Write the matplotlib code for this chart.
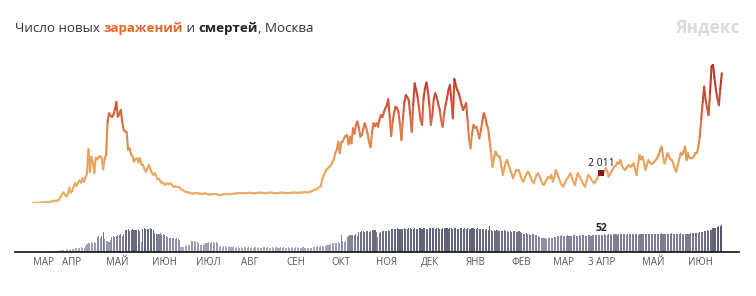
import matplotlib
matplotlib.use('Agg')
import matplotlib.pyplot as plt
import matplotlib.dates as mdates
from matplotlib.collections import LineCollection
from matplotlib.colors import LinearSegmentedColormap, Normalize
import numpy as np
import pandas as pd

plt.rcParams['font.family'] = ['Open Sans', 'DejaVu Sans']

# Данные: новые заражения и смерти в день, Москва, с 12 марта 2020
start_date = '2020-03-12'
cases = [
    5, 6, 8, 10, 12, 20, 30, 33, 44, 54, 71, 71, 28, 120, 136, 157, 114, 197, 212, 387,  # мар 2020
    595, 697, 536, 434, 591, 1014, 697, 798, 1124, 1306, 1124, 1355, 1489, 1355, 1640, 1400, 1700, 1959,
    3570, 2080, 3070, 2700, 1990, 3000, 2900, 3050, 3100, 3000, 2230, 2900,  # апр
    3200, 5358, 5948, 5795, 5714, 5858, 6200, 6703, 5730, 5900, 6170, 5392, 4840, 4748, 4703, 3520,
    3630, 3238, 3100, 2740, 2913, 2960, 2700, 2988, 2560, 2516, 2300, 2080, 2250, 2520, 2300,  # май
    2014, 1880, 1970, 1842, 1572, 1600, 1450, 1300, 1350, 1195, 1260, 1300, 1250, 1300, 1180, 1080,
    1100, 1060, 1080, 1038, 906, 860, 800, 750, 720, 700, 660, 650, 600, 640,  # июн
    640, 650, 630, 620, 610, 600, 640, 620, 600, 580, 560, 570, 590, 600, 580, 560, 540, 530, 550, 570,
    580, 600, 590, 580, 600, 610, 620, 630, 640, 640, 650,  # июл
    650, 660, 650, 640, 660, 670, 680, 660, 650, 640, 660, 670, 680, 690, 680, 660, 650, 660, 670, 680,
    690, 680, 660, 650, 640, 660, 670, 680, 690, 680, 660,  # авг
    658, 660, 670, 680, 690, 700, 680, 670, 690, 700, 680, 700, 720, 730, 700, 710, 750, 800, 830, 880,
    900, 960, 1050, 1100, 1560, 1792, 2016, 2217, 2300, 2424,  # сен
    2500, 2704, 2884, 3327, 3537, 4070, 3300, 4000, 4082, 4300, 4450, 4510, 3900, 4400, 3960, 4955,
    4600, 5150, 5400, 5000, 4400, 4500, 4900, 5290, 5000, 4600, 4000, 3695, 4700, 5290, 5100,  # окт
    5300, 5065, 5500, 5840, 5700, 6000, 6280, 6450, 6880, 5700, 4446, 5400, 6000, 6390, 6300, 6000,
    5200, 4180, 5600, 6700, 7167, 7000, 6800, 5800, 4730, 6500, 7940, 7500, 7000, 6300,  # ноя
    5500, 5176, 6900, 7600, 7985, 7400, 6500, 5176, 5800, 6900, 7280, 7000, 6600, 6200, 5500, 5065,
    5900, 6500, 6950, 7500, 7830, 6800, 5620, 8230, 7800, 7500, 7280, 6900, 6500, 6170, 6400,  # дек
    6620, 5500, 4200, 3630, 4600, 5176, 5000, 5050, 4700, 4290, 4800, 5400, 5950, 5700, 5200, 4955,
    4100, 3300, 2410, 3000, 3400, 3200, 3100, 3070, 2400, 1860, 2300, 2700, 2850, 2500, 2200,  # янв 2021
    1900, 1640, 1900, 2190, 2150, 2190, 1800, 1550, 1415, 1700, 1900, 2080, 1950, 1700, 1450, 1305,
    1600, 1850, 1970, 1750, 1500, 1250, 1195, 1400, 1600, 1745, 1650, 1860,  # фев
    1415, 1700, 2190, 1950, 1700, 1400, 1200, 1080, 1300, 1500, 1650, 1800, 1970, 1700, 1400, 1195,
    1600, 1970, 1800, 1600, 1400, 1200, 1080, 1500, 1860, 1750, 1600, 1450, 1305, 1400, 1600,  # мар
    1800, 1900, 2011, 1900, 2100, 2300, 2100, 1750, 1900, 2100, 2300, 2410, 2500, 2700, 2600, 2850,
    2500, 2300, 2190, 2300, 2450, 2520, 2400, 2500, 2630, 2200, 1860, 2600, 3180, 2900,  # апр
    3080, 2700, 2190, 2500, 2850, 2700, 2600, 2630, 2750, 2850, 2960, 3200, 3500, 3740, 3100, 2630,
    2900, 3300, 3100, 2900, 2850, 2600, 2300, 2080, 2500, 2900, 3300, 3200, 3400, 3740, 2850,  # май
    3300, 3000, 2960, 3000, 3100, 3300, 3300, 3700, 4400, 5600, 6700, 7720, 6840, 6300, 5840, 7300,
    9050, 9160, 8300, 7500, 6950, 6500, 7600, 8610,  # июн
]
deaths = [
    0, 0, 0, 0, 0, 0, 0, 0, 0, 0, 0, 0, 0, 2, 3, 2, 4, 3, 5, 4,  # мар 2020
    6, 5, 4, 7, 8, 6, 9, 8, 10, 12, 11, 13, 12, 14, 12, 13, 18, 24, 28, 26, 30, 28, 32, 29, 45, 48,
    43, 50, 61, 40,  # апр
    35, 33, 31, 38, 45, 48, 47, 50, 52, 53, 55, 50, 54, 66, 68, 70, 65, 67, 69, 68, 66, 68, 67, 65,
    31, 70, 72, 71, 69, 70, 72,  # май
    71, 68, 58, 56, 55, 54, 57, 53, 55, 52, 50, 45, 44, 43, 42, 44, 41, 43, 40, 38, 16, 14, 15, 17,
    20, 22, 21, 33, 34, 35,  # июн
    32, 30, 28, 22, 20, 22, 24, 26, 28, 30, 29, 31, 30, 28, 30, 29, 18, 17, 16, 18, 17, 16, 15, 17,
    14, 15, 14, 13, 15, 14, 13,  # июл
    14, 13, 14, 15, 13, 14, 12, 14, 13, 15, 14, 13, 14, 12, 13, 14, 15, 13, 14, 13, 12, 14, 13, 14,
    15, 13, 12, 14, 13, 14, 13,  # авг
    13, 14, 12, 13, 14, 13, 15, 14, 13, 12, 13, 14, 12, 13, 11, 12, 13, 12, 14, 15, 16, 17, 16, 18,
    17, 19, 18, 20, 21, 22,  # сен
    24, 26, 28, 27, 29, 30, 28, 52, 33, 31, 34, 45, 50, 52, 51, 53, 52, 54, 50, 60, 62, 63, 64, 61,
    65, 63, 62, 64, 66, 67, 68,  # окт
    60, 47, 58, 62, 64, 65, 63, 64, 66, 65, 70, 71, 69, 70, 72, 71, 70, 69, 71, 72, 70, 71, 73, 72,
    70, 71, 72, 70, 71, 73,  # ноя
    72, 71, 73, 72, 70, 71, 72, 73, 74, 72, 71, 73, 72, 70, 71, 72, 73, 74, 72, 71, 73, 72, 71, 72,
    73, 71, 70, 72, 73, 71, 72,  # дек
    71, 72, 70, 71, 72, 73, 70, 71, 72, 70, 71, 69, 70, 68, 70, 67, 78, 66, 65, 67, 64, 66, 65, 63,
    64, 65, 66, 63, 64, 62, 63,  # янв 2021
    62, 63, 64, 61, 62, 63, 60, 58, 56, 55, 57, 54, 55, 53, 56, 54, 52, 53, 50, 45, 43, 44, 42, 43,
    41, 44, 43, 42,  # фев
    44, 45, 47, 48, 50, 49, 51, 50, 48, 49, 51, 50, 49, 50, 52, 51, 50, 49, 51, 50, 52, 51, 50, 49,
    51, 52, 50, 51, 52, 53, 51,  # мар
    51, 52, 52, 53, 54, 52, 53, 54, 55, 53, 54, 55, 54, 53, 55, 54, 56, 55, 54, 53, 55, 56, 54, 55,
    56, 54, 55, 53, 54, 55,  # апр
    54, 55, 56, 54, 55, 56, 55, 54, 56, 55, 54, 56, 55, 57, 55, 54, 56, 55, 54, 56, 57, 55, 56, 54,
    55, 56, 57, 55, 56, 55, 56,  # май
    55, 56, 57, 58, 57, 58, 59, 58, 60, 61, 62, 64, 65, 66, 65, 67, 68, 72, 73, 74, 75, 78, 80, 84,  # июн
]

month_labels = ['МАР', 'АПР', 'МАЙ', 'ИЮН', 'ИЮЛ', 'АВГ', 'СЕН', 'ОКТ', 'НОЯ', 'ДЕК',
                'ЯНВ', 'ФЕВ', 'МАР', 'МАЙ', 'ИЮН']
month_dates = ['2020-03-12', '2020-04-01', '2020-05-01', '2020-06-01', '2020-07-01', '2020-08-01',
               '2020-09-01', '2020-10-01', '2020-11-01', '2020-12-01', '2021-01-01', '2021-02-01',
               '2021-03-01', '2021-05-01', '2021-06-01']
highlight_date = '2021-04-03'
highlight_label = '3 АПР'

dates = pd.date_range(start_date, periods=len(cases))
x = mdates.date2num(dates)
cases = np.array(cases, dtype=float)
deaths = np.array(deaths, dtype=float)

W, H = 756, 296
fig = plt.figure(figsize=(W / 100, H / 100), dpi=100)
left, width = 15 / W, 724 / W

ax_line = fig.add_axes([left, 1 - 203 / H, width, 163 / H])
ax_bar = fig.add_axes([left, 1 - 252 / H, width, 40 / H])

x0 = mdates.date2num(pd.Timestamp('2020-03-01')) - 0.98
x1 = x0 + 0.98 + 491.7
for ax in (ax_line, ax_bar):
    ax.set_xlim(x0, x1)
    ax.set_facecolor('none')
    for s in ax.spines.values():
        s.set_visible(False)
    ax.set_xticks([])
    ax.set_yticks([])
ax_line.set_ylim(0, 163 / 0.01507)
ax_bar.set_ylim(0, 40 / 0.327)
ax_bar.spines['bottom'].set_visible(True)
ax_bar.spines['bottom'].set_linewidth(1.2)
ax_bar.spines['bottom'].set_color('#111111')

# линия заражений с градиентом по значению
line_cmap = LinearSegmentedColormap.from_list('inf', [
    (0.0, '#ebb06a'), (0.3, '#e7a25d'), (0.45, '#e28a4e'),
    (0.62, '#d8653f'), (0.8, '#c74632'), (1.0, '#ac2c25')])
pts = np.column_stack([x, cases]).reshape(-1, 1, 2)
segs = np.concatenate([pts[:-1], pts[1:]], axis=1)
mid = (cases[:-1] + cases[1:]) / 2
lc = LineCollection(segs, cmap=line_cmap, norm=Normalize(0, 9200), linewidths=1.5,
                    capstyle='round', joinstyle='round')
lc.set_array(mid)
ax_line.add_collection(lc)

# столбики смертей
bar_cmap = LinearSegmentedColormap.from_list('dth', ['#b4b6c9', '#8d90a8', '#4d5168'])
ax_bar.bar(x, deaths, width=0.72, color=bar_cmap(Normalize(0, 85)(deaths)), linewidth=0)

# подписи месяцев
for lab, d in zip(month_labels, month_dates):
    ax_bar.annotate(lab, (mdates.date2num(pd.Timestamp(d)), 0), xycoords=('data', 'axes fraction'),
                    xytext=(0, -9.4), textcoords='offset points', ha='left', va='baseline',
                    fontsize=7, color='#555555')
hx = mdates.date2num(pd.Timestamp(highlight_date))
ax_bar.annotate(highlight_label, (hx, 0), xycoords=('data', 'axes fraction'),
                xytext=(0, -9.4), textcoords='offset points', ha='center', va='baseline',
                fontsize=7, color='#555555')

# выделенная точка
hi = dates.get_loc(pd.Timestamp(highlight_date))
ax_line.scatter([hx], [cases[hi]], s=14, marker='s', color='#8e1b1b', zorder=5, linewidths=0)
ax_line.annotate(f'{int(cases[hi]):,}'.replace(',', ' '), (hx, cases[hi]), xytext=(0, 3),
                 textcoords='offset points', ha='center', va='bottom', fontsize=7.5, color='#222222')
ax_bar.annotate(f'{int(deaths[hi])}', (hx, deaths[hi]), xytext=(0, 1), textcoords='offset points',
                ha='center', va='bottom', fontsize=7.5, color='#222222', fontweight='bold')

# заголовок из кусочков разного цвета
parts = [('Число новых ', '#333333', 'normal'), ('заражений', '#e8672b', 'bold'),
         (' и ', '#333333', 'normal'), ('смертей', '#222222', 'bold'),
         (', Москва', '#333333', 'normal')]
renderer = fig.canvas.get_renderer()
tx = 15
for s, c, w in parts:
    t = fig.text(tx / W, 1 - 32.3 / H, s, color=c, fontweight=w, fontsize=9.6, va='baseline')
    tx = t.get_window_extent(renderer).x1

fig.text(740 / W, 1 - 32.3 / H, 'Яндекс', ha='right', va='baseline', fontsize=12.5,
         fontweight='bold', color='#dadada')

fig.savefig('out.png', dpi=100)
